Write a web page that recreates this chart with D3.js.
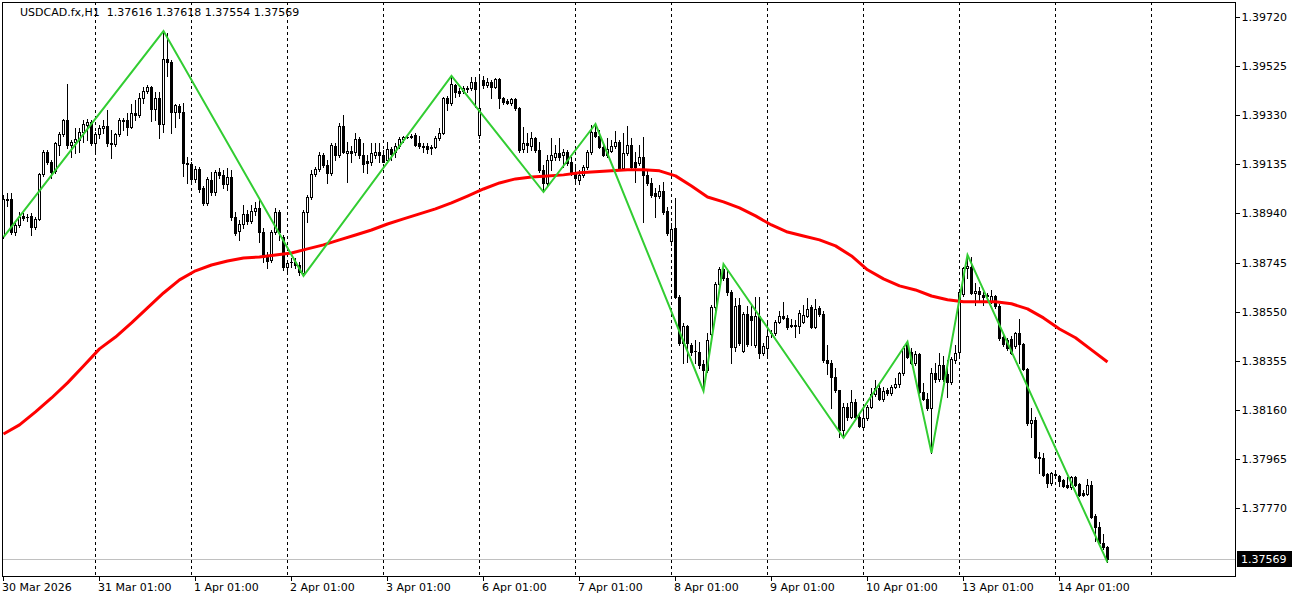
<!DOCTYPE html>
<html><head><meta charset="utf-8">
<script src="https://cdn.jsdelivr.net/npm/d3@7/dist/d3.min.js"></script>
<style>
body{margin:0;background:#fff}
svg{display:block}
text{font-family:"DejaVu Sans",sans-serif;font-size:11px;fill:#000}
</style>
</head><body>
<svg id="chart" width="1300" height="600"></svg>
<script>
// ---------------- DATA ----------------
const symbol = "USDCAD.fx,H1";
const open = [1.38850,1.38997,1.38997,1.38866,1.38894,1.38930,1.38922,1.38930,1.38886,1.38918,1.39097,1.39184,1.39144,1.39109,1.39212,1.39255,1.39311,1.39212,1.39224,1.39232,1.39263,1.39291,1.39303,1.39220,1.39255,1.39279,1.39287,1.39220,1.39216,1.39255,1.39311,1.39311,1.39283,1.39339,1.39331,1.39398,1.39426,1.39442,1.39355,1.39398,1.39295,1.39553,1.39541,1.39343,1.39367,1.39343,1.39140,1.39136,1.39077,1.39117,1.39041,1.38982,1.39073,1.39025,1.39105,1.39093,1.39057,1.39085,1.38926,1.38870,1.38898,1.38938,1.38910,1.38950,1.38962,1.38866,1.38775,1.38755,1.38866,1.38946,1.38846,1.38728,1.38743,1.38747,1.38735,1.38704,1.38946,1.39005,1.39097,1.39117,1.39172,1.39133,1.39101,1.39208,1.39172,1.39287,1.39180,1.39188,1.39184,1.39236,1.39172,1.39148,1.39144,1.39172,1.39184,1.39172,1.39152,1.39196,1.39184,1.39208,1.39236,1.39243,1.39247,1.39251,1.39220,1.39208,1.39208,1.39204,1.39204,1.39240,1.39259,1.39398,1.39379,1.39450,1.39426,1.39426,1.39438,1.39438,1.39462,1.39251,1.39470,1.39450,1.39462,1.39442,1.39474,1.39398,1.39387,1.39379,1.39394,1.39359,1.39196,1.39220,1.39208,1.39240,1.39192,1.39113,1.39061,1.39152,1.39164,1.39180,1.39172,1.39184,1.39144,1.39105,1.39073,1.39093,1.39125,1.39184,1.39263,1.39247,1.39204,1.39172,1.39188,1.39208,1.39224,1.39121,1.39180,1.39212,1.39144,1.39140,1.39164,1.39093,1.39061,1.39021,1.39009,1.39029,1.38950,1.38831,1.38882,1.38608,1.38426,1.38493,1.38418,1.38390,1.38390,1.38342,1.38319,1.38461,1.38569,1.38660,1.38720,1.38684,1.38628,1.38410,1.38577,1.38394,1.38541,1.38533,1.38418,1.38533,1.38386,1.38406,1.38461,1.38465,1.38509,1.38533,1.38525,1.38497,1.38497,1.38493,1.38509,1.38533,1.38569,1.38489,1.38565,1.38541,1.38358,1.38346,1.38291,1.38239,1.38080,1.38172,1.38132,1.38192,1.38132,1.38092,1.38128,1.38172,1.38223,1.38247,1.38204,1.38239,1.38227,1.38251,1.38263,1.38307,1.38422,1.38390,1.38346,1.38382,1.38231,1.38204,1.38168,1.38307,1.38283,1.38338,1.38303,1.38271,1.38358,1.38390,1.38620,1.38724,1.38728,1.38624,1.38632,1.38616,1.38616,1.38593,1.38612,1.38573,1.38450,1.38438,1.38442,1.38414,1.38465,1.38422,1.38323,1.38108,1.38120,1.37973,1.37969,1.37906,1.37870,1.37906,1.37898,1.37882,1.37862,1.37854,1.37894,1.37866,1.37830,1.37826,1.37862,1.37739,1.37695,1.37632,1.37616];
const high = [1.39013,1.39021,1.39021,1.38902,1.38946,1.38942,1.38938,1.38942,1.38926,1.39101,1.39192,1.39192,1.39152,1.39224,1.39263,1.39315,1.39454,1.39232,1.39279,1.39279,1.39311,1.39315,1.39311,1.39263,1.39291,1.39311,1.39351,1.39271,1.39259,1.39319,1.39319,1.39339,1.39375,1.39391,1.39418,1.39442,1.39450,1.39446,1.39422,1.39422,1.39664,1.39656,1.39549,1.39375,1.39375,1.39379,1.39164,1.39144,1.39129,1.39125,1.39049,1.39085,1.39105,1.39113,1.39121,1.39113,1.39121,1.39113,1.38946,1.38914,1.38974,1.38954,1.38974,1.38986,1.38994,1.38882,1.38787,1.38874,1.38962,1.38954,1.38854,1.38755,1.38763,1.38763,1.38747,1.38954,1.39013,1.39113,1.39125,1.39184,1.39180,1.39152,1.39220,1.39220,1.39299,1.39331,1.39224,1.39208,1.39259,1.39243,1.39220,1.39172,1.39220,1.39220,1.39220,1.39192,1.39224,1.39204,1.39220,1.39243,1.39247,1.39251,1.39255,1.39259,1.39247,1.39220,1.39220,1.39212,1.39247,1.39279,1.39402,1.39406,1.39486,1.39454,1.39438,1.39446,1.39446,1.39482,1.39482,1.39482,1.39486,1.39478,1.39470,1.39478,1.39478,1.39402,1.39394,1.39398,1.39398,1.39363,1.39283,1.39259,1.39263,1.39243,1.39224,1.39133,1.39172,1.39240,1.39212,1.39240,1.39196,1.39192,1.39164,1.39132,1.39113,1.39132,1.39192,1.39291,1.39295,1.39271,1.39212,1.39240,1.39232,1.39267,1.39232,1.39259,1.39287,1.39240,1.39184,1.39212,1.39243,1.39113,1.39081,1.39041,1.39053,1.39065,1.38966,1.38902,1.39001,1.38616,1.38505,1.38497,1.38426,1.38438,1.38430,1.38358,1.38465,1.38577,1.38668,1.38727,1.38739,1.38716,1.38636,1.38604,1.38604,1.38549,1.38573,1.38577,1.38608,1.38608,1.38426,1.38505,1.38477,1.38517,1.38553,1.38589,1.38537,1.38521,1.38517,1.38557,1.38577,1.38604,1.38577,1.38600,1.38573,1.38553,1.38418,1.38358,1.38327,1.38239,1.38188,1.38188,1.38239,1.38204,1.38148,1.38180,1.38180,1.38247,1.38279,1.38259,1.38251,1.38247,1.38259,1.38287,1.38311,1.38414,1.38430,1.38406,1.38394,1.38386,1.38267,1.38227,1.38327,1.38346,1.38386,1.38374,1.38358,1.38370,1.38418,1.38640,1.38728,1.38775,1.38767,1.38664,1.38648,1.38628,1.38624,1.38636,1.38616,1.38581,1.38457,1.38446,1.38453,1.38469,1.38521,1.38426,1.38327,1.38168,1.38132,1.37993,1.37989,1.37910,1.37914,1.37910,1.37902,1.37886,1.37894,1.37898,1.37898,1.37870,1.37842,1.37886,1.37878,1.37747,1.37715,1.37668,1.37618];
const low = [1.38842,1.38970,1.38858,1.38854,1.38886,1.38914,1.38910,1.38854,1.38878,1.38914,1.39089,1.39136,1.39081,1.39101,1.39172,1.39247,1.39200,1.39164,1.39180,1.39184,1.39224,1.39232,1.39212,1.39176,1.39240,1.39259,1.39208,1.39160,1.39208,1.39247,1.39271,1.39251,1.39279,1.39311,1.39323,1.39379,1.39418,1.39307,1.39311,1.39240,1.39263,1.39486,1.39259,1.39283,1.39319,1.39089,1.39061,1.39061,1.39065,1.39025,1.38974,1.38974,1.39013,1.39013,1.39081,1.39041,1.39033,1.38914,1.38854,1.38835,1.38882,1.38898,1.38902,1.38934,1.38827,1.38747,1.38724,1.38747,1.38858,1.38835,1.38716,1.38708,1.38728,1.38724,1.38696,1.38692,1.38906,1.38997,1.39089,1.39109,1.39125,1.39061,1.39093,1.39152,1.39164,1.39180,1.39065,1.39144,1.39172,1.39160,1.39105,1.39101,1.39132,1.39160,1.39144,1.39144,1.39144,1.39152,1.39164,1.39200,1.39224,1.39240,1.39240,1.39208,1.39200,1.39184,1.39180,1.39176,1.39200,1.39232,1.39255,1.39351,1.39371,1.39402,1.39406,1.39418,1.39422,1.39430,1.39363,1.39240,1.39438,1.39442,1.39398,1.39438,1.39359,1.39375,1.39375,1.39371,1.39351,1.39184,1.39184,1.39184,1.39192,1.39184,1.39105,1.39025,1.39049,1.39113,1.39152,1.39152,1.39125,1.39132,1.39093,1.39061,1.39057,1.39085,1.39117,1.39176,1.39243,1.39200,1.39168,1.39164,1.39184,1.39200,1.39113,1.39113,1.39172,1.39121,1.39065,1.39132,1.38906,1.39053,1.39005,1.38926,1.39001,1.38938,1.38854,1.38815,1.38604,1.38418,1.38346,1.38350,1.38378,1.38346,1.38327,1.38235,1.38311,1.38453,1.38557,1.38652,1.38676,1.38616,1.38346,1.38394,1.38418,1.38390,1.38414,1.38418,1.38410,1.38366,1.38378,1.38366,1.38449,1.38457,1.38505,1.38521,1.38481,1.38489,1.38449,1.38465,1.38505,1.38529,1.38485,1.38485,1.38533,1.38350,1.38303,1.38168,1.38231,1.38053,1.38049,1.38120,1.38128,1.38120,1.38092,1.38080,1.38120,1.38168,1.38215,1.38200,1.38196,1.38219,1.38219,1.38247,1.38251,1.38299,1.38366,1.38342,1.38338,1.38227,1.38200,1.38160,1.37989,1.38271,1.38275,1.38275,1.38211,1.38263,1.38346,1.38374,1.38612,1.38684,1.38620,1.38577,1.38597,1.38577,1.38597,1.38585,1.38565,1.38438,1.38414,1.38398,1.38382,1.38406,1.38346,1.38319,1.38100,1.38053,1.37969,1.37910,1.37898,1.37854,1.37862,1.37894,1.37858,1.37854,1.37850,1.37846,1.37858,1.37818,1.37818,1.37822,1.37731,1.37640,1.37628,1.37608,1.37554];
const close = [1.38997,1.38994,1.38866,1.38894,1.38926,1.38922,1.38926,1.38886,1.38918,1.39097,1.39184,1.39144,1.39105,1.39220,1.39255,1.39311,1.39212,1.39224,1.39236,1.39263,1.39295,1.39303,1.39220,1.39255,1.39279,1.39287,1.39220,1.39216,1.39255,1.39311,1.39307,1.39283,1.39339,1.39331,1.39398,1.39426,1.39442,1.39355,1.39398,1.39295,1.39553,1.39541,1.39343,1.39371,1.39343,1.39140,1.39136,1.39077,1.39117,1.39037,1.38982,1.39077,1.39025,1.39105,1.39093,1.39057,1.39085,1.38926,1.38862,1.38898,1.38938,1.38910,1.38950,1.38962,1.38866,1.38767,1.38751,1.38866,1.38946,1.38866,1.38728,1.38743,1.38747,1.38735,1.38708,1.38946,1.39005,1.39097,1.39117,1.39172,1.39133,1.39101,1.39212,1.39172,1.39287,1.39184,1.39188,1.39180,1.39236,1.39172,1.39136,1.39140,1.39180,1.39184,1.39172,1.39144,1.39196,1.39176,1.39208,1.39236,1.39243,1.39244,1.39243,1.39212,1.39208,1.39204,1.39196,1.39203,1.39240,1.39259,1.39398,1.39379,1.39454,1.39422,1.39418,1.39438,1.39437,1.39462,1.39434,1.39359,1.39450,1.39462,1.39442,1.39474,1.39398,1.39383,1.39379,1.39394,1.39359,1.39192,1.39220,1.39212,1.39240,1.39192,1.39113,1.39061,1.39152,1.39172,1.39180,1.39164,1.39184,1.39140,1.39105,1.39081,1.39093,1.39125,1.39184,1.39263,1.39247,1.39204,1.39172,1.39196,1.39208,1.39224,1.39121,1.39180,1.39212,1.39125,1.39125,1.39164,1.39093,1.39061,1.39013,1.39009,1.39029,1.38946,1.38862,1.38878,1.38608,1.38426,1.38493,1.38426,1.38390,1.38394,1.38338,1.38319,1.38438,1.38569,1.38660,1.38720,1.38684,1.38628,1.38410,1.38573,1.38426,1.38541,1.38422,1.38517,1.38533,1.38386,1.38414,1.38453,1.38465,1.38509,1.38533,1.38525,1.38489,1.38496,1.38496,1.38545,1.38537,1.38561,1.38489,1.38561,1.38541,1.38358,1.38346,1.38291,1.38239,1.38080,1.38172,1.38132,1.38192,1.38132,1.38096,1.38128,1.38172,1.38223,1.38247,1.38204,1.38235,1.38227,1.38251,1.38263,1.38307,1.38406,1.38370,1.38346,1.38382,1.38231,1.38204,1.38168,1.38307,1.38283,1.38338,1.38283,1.38271,1.38362,1.38386,1.38628,1.38724,1.38732,1.38624,1.38632,1.38620,1.38608,1.38615,1.38612,1.38573,1.38446,1.38422,1.38406,1.38386,1.38465,1.38422,1.38323,1.38108,1.38120,1.37973,1.37969,1.37902,1.37870,1.37910,1.37902,1.37878,1.37858,1.37854,1.37894,1.37862,1.37822,1.37822,1.37862,1.37735,1.37695,1.37632,1.37616,1.37569];

// moving average (red), one value every 4th bar
const maStep = 4;
const maValues = [1.38064,1.38100,1.38152,1.38207,1.38267,1.38334,1.38402,1.38449,1.38505,1.38565,1.38624,1.38676,1.38712,1.38735,1.38751,1.38763,1.38767,1.38775,1.38783,1.38799,1.38815,1.38835,1.38854,1.38874,1.38898,1.38918,1.38938,1.38958,1.38982,1.39009,1.39037,1.39061,1.39077,1.39085,1.39089,1.39093,1.39101,1.39105,1.39109,1.39113,1.39113,1.39109,1.39089,1.39049,1.39005,1.38986,1.38962,1.38930,1.38894,1.38866,1.38850,1.38835,1.38811,1.38771,1.38716,1.38680,1.38652,1.38636,1.38612,1.38597,1.38589,1.38589,1.38589,1.38581,1.38561,1.38525,1.38481,1.38446,1.38398,1.38350];

// zigzag (green): bar index and price of each swing point
const zigBars = [0,40,75,112,135,148,175,180,210,226,232,241,276];
const zigPrices = [1.38846,1.39664,1.38692,1.39486,1.39025,1.39295,1.38235,1.38739,1.38049,1.38430,1.37989,1.38775,1.37554];

// axes
const priceTicks = [1.39720,1.39525,1.39330,1.39135,1.38940,1.38745,1.38550,1.38355,1.38160,1.37965,1.37770];
const timeLabels = ["30 Mar 2026","31 Mar 01:00","1 Apr 01:00","2 Apr 01:00","3 Apr 01:00","6 Apr 01:00","7 Apr 01:00","8 Apr 01:00","9 Apr 01:00","10 Apr 01:00","13 Apr 01:00","14 Apr 01:00"];
const timeLabelBars = [0,24,48,72,96,120,144,168,192,216,240,264];
const daySeparatorBars = [23,47,71,95,119,143,167,191,215,239,263,287];

// ---------------- DRAW ----------------
const svg = d3.select("#chart");
const frame = {left:2, top:2, right:1235, bottom:576};

const x = d3.scaleLinear().domain([0, 100]).range([3, 403]);       // bar index -> px (4 px per bar)
const y = d3.scaleLinear().domain([1.37770, 1.39720]).range([508, 17]);

svg.append("rect").attr("width",1300).attr("height",600).attr("fill","#fff");

svg.append("clipPath").attr("id","plotclip").append("rect")
  .attr("x",frame.left).attr("y",frame.top)
  .attr("width",frame.right-frame.left).attr("height",frame.bottom-frame.top);

const g = svg.append("g").attr("clip-path","url(#plotclip)");

// day separators
g.selectAll("line.sep").data(daySeparatorBars).join("line")
  .attr("class","sep")
  .attr("x1",d=>Math.round(x(d))+0.5).attr("x2",d=>Math.round(x(d))+0.5)
  .attr("y1",frame.top).attr("y2",frame.bottom)
  .attr("stroke","#000").attr("stroke-width",1).attr("stroke-dasharray","3,3")
  .attr("shape-rendering","crispEdges");

// current price line
const last = close[close.length-1];
g.append("line")
  .attr("x1",frame.left).attr("x2",frame.right)
  .attr("y1",Math.round(y(last))+0.5).attr("y2",Math.round(y(last))+0.5)
  .attr("stroke","#c0c0c0").attr("stroke-width",1).attr("shape-rendering","crispEdges");

// candles
const bars = d3.range(close.length);
const cg = g.append("g").attr("shape-rendering","crispEdges");
bars.forEach(i=>{
  const px = Math.round(x(i));
  const yo = Math.round(y(open[i])), yc = Math.round(y(close[i]));
  const yh = Math.round(y(high[i])), yl = Math.round(y(low[i]));
  cg.append("line").attr("x1",px+0.5).attr("x2",px+0.5)
    .attr("y1",Math.min(yh,yo,yc)).attr("y2",Math.max(yl,yo,yc)+1)
    .attr("stroke","#000").attr("stroke-width",1);
  if (close[i] >= open[i]) {
    const h = yo - yc;
    if (h <= 1) {
      cg.append("rect").attr("x",px-1).attr("y",yc).attr("width",3).attr("height",1).attr("fill","#000");
    } else {
      cg.append("rect").attr("x",px-0.5).attr("y",yc+0.5).attr("width",2).attr("height",h)
        .attr("fill","#fff").attr("stroke","#000").attr("stroke-width",1);
    }
  } else {
    const h = Math.max(yc - yo, 1);
    cg.append("rect").attr("x",px-1).attr("y",yo).attr("width",3).attr("height",h+1).attr("fill","#000");
  }
});

// moving average
g.append("path")
  .datum(maValues)
  .attr("fill","none").attr("stroke","#ff0000").attr("stroke-width",3)
  .attr("stroke-linejoin","round")
  .attr("d", d3.line().x((d,k)=>x(k*maStep)+0.5).y(d=>y(d)));

// zigzag
g.append("path")
  .datum(zigBars.map((b,k)=>[b,zigPrices[k]]))
  .attr("fill","none").attr("stroke","#32cd32").attr("stroke-width",2)
  .attr("d", d3.line().x(d=>x(d[0])+0.5).y(d=>y(d[1])));

// frame
svg.append("rect")
  .attr("x",frame.left+0.5).attr("y",frame.top+0.5)
  .attr("width",frame.right-frame.left).attr("height",frame.bottom-frame.top)
  .attr("fill","none").attr("stroke","#000").attr("stroke-width",1)
  .attr("shape-rendering","crispEdges");

// price axis
const yAxis = d3.axisRight(y).tickValues(priceTicks).tickFormat(d=>d.toFixed(5))
  .tickSize(4).tickPadding(2);
const ya = svg.append("g").attr("transform",`translate(${frame.right+0.5},0)`).call(yAxis);
ya.select(".domain").remove();
ya.selectAll("line").attr("stroke","#000").attr("shape-rendering","crispEdges");
ya.selectAll("text").attr("font-family","DejaVu Sans").attr("font-size",11).attr("fill","#000");

// current price tag
const ly = Math.round(y(last));
svg.append("rect").attr("x",frame.right+2).attr("y",ly-8).attr("width",55).attr("height",16).attr("fill","#000");
svg.append("text").attr("x",frame.right+6).attr("y",ly).attr("dy","0.35em")
  .style("fill","#fff").text(last.toFixed(5));

// time axis
const tx = svg.append("g");
tx.selectAll("line").data(timeLabelBars).join("line")
  .attr("x1",d=>Math.round(x(d))+0.5).attr("x2",d=>Math.round(x(d))+0.5)
  .attr("y1",frame.bottom).attr("y2",frame.bottom+5)
  .attr("stroke","#000").attr("shape-rendering","crispEdges");
tx.selectAll("text").data(timeLabelBars).join("text")
  .attr("x",d=>Math.round(x(d))-1).attr("y",frame.bottom+11).attr("dy","0.35em")
  .text((d,k)=>timeLabels[k]);

// title
const n = close.length-1;
svg.append("text").attr("x",20).attr("y",12).attr("dy","0.35em")
  .attr("xml:space","preserve").style("white-space","pre")
  .text(`${symbol}  ${open[n].toFixed(5)} ${high[n].toFixed(5)} ${low[n].toFixed(5)} ${close[n].toFixed(5)}`);
</script>
</body></html>
